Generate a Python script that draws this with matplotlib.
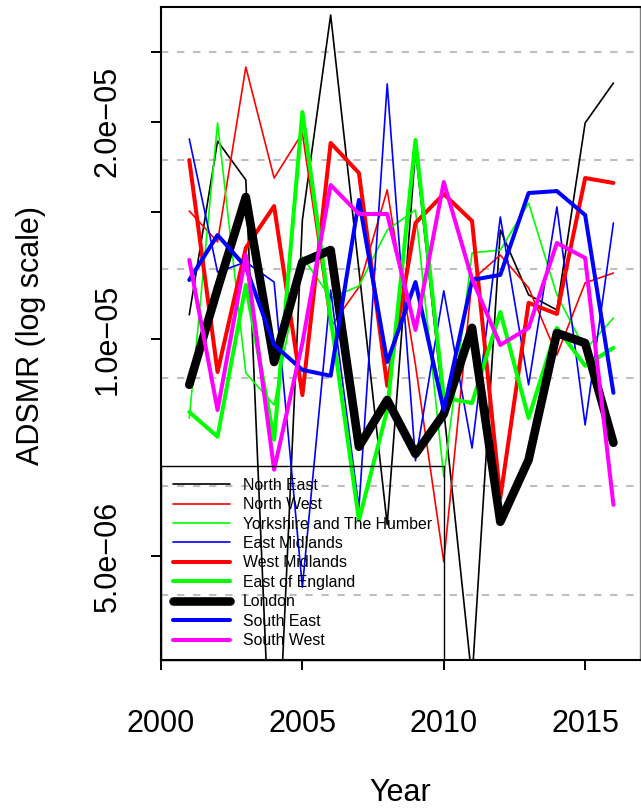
import matplotlib
matplotlib.use("Agg")
import matplotlib.pyplot as plt
from matplotlib.ticker import NullLocator

plt.rcParams['font.family'] = ['Liberation Sans', 'DejaVu Sans']

# ---- data (ADSMR, in units of 1e-5) ----
years = list(range(2001, 2017))

north_east = [1.080, 1.880, 1.661, 0.195, 1.462, 2.811, 1.246, 0.553, 1.827, 0.797, 0.337, 1.416, 1.151, 1.097, 1.992, 2.263]
north_west = [1.504, 1.363, 2.381, 1.671, 1.929, 1.039, 1.180, 1.609, 0.920, 0.491, 1.207, 1.307, 1.177, 0.950, 1.196, 1.234]
yorkshire = [0.777, 1.992, 0.897, 0.810, 1.299, 1.140, 1.184, 1.416, 1.509, 0.644, 1.316, 1.328, 1.543, 1.151, 0.966, 1.069]
east_midlands = [1.893, 1.238, 1.278, 1.199, 0.453, 1.169, 0.583, 2.256, 0.678, 1.166, 0.706, 1.476, 0.864, 1.524, 0.760, 1.448]
west_midlands = [1.770, 0.900, 1.337, 1.528, 0.836, 1.869, 1.698, 0.861, 1.448, 1.588, 1.457, 0.602, 1.122, 1.083, 1.671, 1.645]
east_of_england = [0.792, 0.732, 1.188, 0.725, 2.063, 1.069, 0.561, 0.797, 1.887, 0.829, 0.815, 1.090, 0.777, 1.036, 0.918, 0.972]
london = [0.864, 1.173, 1.573, 0.929, 1.278, 1.328, 0.709, 0.823, 0.693, 0.787, 1.036, 0.558, 0.680, 1.019, 0.987, 0.718]
south_east = [1.207, 1.393, 1.258, 0.981, 0.906, 0.889, 1.558, 0.929, 1.199, 0.797, 1.207, 1.227, 1.593, 1.603, 1.485, 0.842]
south_west = [1.287, 0.797, 1.307, 0.659, 0.987, 1.634, 1.490, 1.490, 1.029, 1.650, 1.211, 0.981, 1.036, 1.358, 1.295, 0.589]
unit = 1e-5

region_names = ["North East", "North West", "Yorkshire and The Humber", "East Midlands",
                "West Midlands", "East of England", "London", "South East", "South West"]
region_values = [north_east, north_west, yorkshire, east_midlands, west_midlands,
                 east_of_england, london, south_east, south_west]

y_ticks = [5e-6, 1e-5, 1.5e-5, 2e-5, 2.5e-5]
y_tick_labels = ["5.0e\u221206", "1.0e\u221205", "", "2.0e\u221205", ""]
x_ticks = [2000, 2005, 2010, 2015]
grid_levels = [4.42e-6, 6.25e-6, 8.84e-6, 1.25e-5, 1.77e-5, 2.5e-5]

# ---- styles ----
colors = ["black", "#FF0000", "#00FF00", "#0000FF", "#FF0000", "#00FF00", "black", "#0000FF", "#FF00FF"]
widths = [1.2, 1.2, 1.2, 1.2, 2.9, 2.9, 6.2, 2.9, 2.9]

W, H = 641, 809
fig = plt.figure(figsize=(W / 100, H / 100), dpi=100)
ax = fig.add_axes([161 / W, 1 - 660 / H, (640 - 161) / W, (660 - 7) / H])

ax.set_yscale('log')
ax.set_ylim(3.59e-6, 2.884e-5)
ax.set_xlim(2000, 2016.94)

for g in grid_levels:
    ax.axhline(g, color='#BEBEBE', lw=1.5, ls=(0, (3.5, 4.2)), zorder=0.5)

for name, vals, c, lw in zip(region_names, region_values, colors, widths):
    ax.plot(years, [v * unit for v in vals], color=c, lw=lw, label=name,
            solid_capstyle='round', solid_joinstyle='round', zorder=2)

ax.set_yticks(y_ticks)
ax.set_yticklabels(y_tick_labels)
ax.yaxis.set_minor_locator(NullLocator())
ax.set_xticks(x_ticks)
ax.set_xticklabels([str(x) for x in x_ticks])

ax.tick_params(axis='both', direction='out', length=7, width=1.4, labelsize=22, color='black')
ax.tick_params(axis='x', pad=28)
ax.tick_params(axis='y', pad=20.5)
for tl in ax.get_yticklabels():
    tl.set_rotation(90)
    tl.set_va('center')

for side in ['left', 'bottom', 'top']:
    ax.spines[side].set_linewidth(1.5)
    ax.spines[side].set_color('black')
ax.spines['right'].set_linewidth(1.0)
ax.spines['right'].set_color('#808080')

leg = ax.legend(loc='lower left', bbox_to_anchor=(0, 0), borderaxespad=0,
                fontsize=11.4, handlelength=3.6, handletextpad=0.82,
                labelspacing=0.28, borderpad=0.75, fancybox=False,
                frameon=True, framealpha=1)
leg.get_frame().set_facecolor('none')
leg.get_frame().set_edgecolor('black')
leg.get_frame().set_linewidth(1.0)

fig.text(31 / W, 1 - 335.5 / H, 'ADSMR (log scale)', rotation=90,
         ha='center', va='center', fontsize=22)
fig.text(400.5 / W, 8 / H, 'Year', ha='center', va='baseline', fontsize=22)

fig.savefig('out.png', dpi=100)
